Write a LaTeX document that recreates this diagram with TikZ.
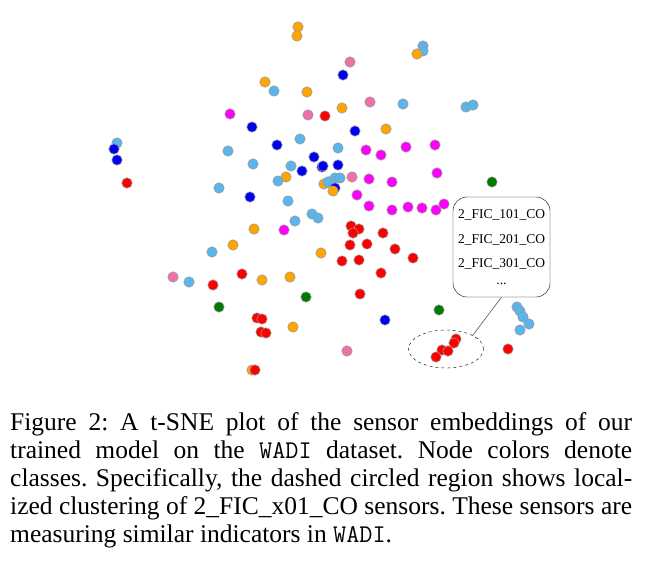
\documentclass[tikz,border=0pt]{standalone}
\usepackage{fontspec}
\setmainfont{Liberation Serif}
\setmonofont{Latin Modern Mono}
\usetikzlibrary{shapes.geometric}
\definecolor{lb}{HTML}{5AB4EE}
\definecolor{org}{HTML}{FFA500}
\definecolor{bl}{HTML}{0000F0}
\definecolor{rd}{HTML}{FF0000}
\definecolor{mg}{HTML}{FF00FF}
\definecolor{pk}{HTML}{F070A8}
\definecolor{gr}{HTML}{007A00}
\newcommand{\dt}[3]{\fill[#1,draw=gray!80,line width=0.6pt] (#2,#3) circle (5.2);}
\frenchspacing
\begin{document}
\begin{tikzpicture}[x=1pt,y=-1pt]
\useasboundingbox (0,0) rectangle (661,564);
\foreach \c/\x/\y in {org/298/27,org/297/36,org/265/82,lb/274/91,org/307/92,mg/230/114,pk/308/115,rd/325/116,bl/252/127,
lb/117/143,bl/114/149,bl/117/160,rd/127/183,lb/228/151,bl/277/145,lb/300/139,bl/314/157,bl/322/167,lb/253/164,lb/291/166,bl/302/171,org/286/177,lb/278/181,lb/219/188,bl/250/197,lb/288/201,org/324/184,lb/329/182,
lb/423/46,lb/423/51,org/417/54,pk/350/62,bl/343/75,pk/370/102,lb/403/104,lb/466/107,lb/473/105,org/342/108,bl/355/131,org/386/129,lb/338/148,mg/366/150,mg/381/155,mg/406/147,mg/435/145,bl/323/166,bl/338/165,pk/352/177,lb/335/178,lb/340/178,lb/328/182,bl/335/188,org/333/191,mg/369/179,mg/392/182,mg/437/173,gr/492/182,mg/357/195,mg/369/206,mg/392/210,mg/408/207,mg/422/208,mg/436/210,mg/444/204,
lb/295/221,lb/312/214,lb/318/218,org/254/229,mg/284/230,rd/351/226,rd/359/229,rd/353/233,rd/383/233,org/233/245,lb/212/252,org/321/253,rd/350/245,rd/367/244,rd/395/249,rd/342/261,rd/359/260,rd/381/273,rd/242/274,pk/173/277,lb/189/282,rd/213/285,org/262/280,org/290/277,gr/306/297,rd/360/294,gr/219/307,rd/257/318,rd/262/319,org/293/327,rd/261/332,rd/266/333,bl/385/320,pk/347/351,org/252/370,rd/255/370,
rd/413/258,gr/439/310,lb/517/307,lb/520/311,lb/523/317,lb/529/324,lb/520/330,rd/508/349,rd/456/339,rd/454/343,rd/442/350,rd/448/351,rd/436/357}
{\dt{\c}{\x}{\y}}
\node[draw,dashed,ellipse,minimum width=75,minimum height=38,inner sep=0] (ell) at (446,349) {};
\node[draw,rounded corners=14,minimum width=97,minimum height=100,align=center,font=\fontsize{13.5}{24.5}\selectfont] (box) at (501.5,247) {2\_FIC\_101\_CO\\2\_FIC\_201\_CO\\2\_FIC\_301\_CO\\[-8pt]...};
\draw[gray!70!black,line width=0.6pt] (ell.north east) -- (box.south);
\begin{scope}[every node/.style={anchor=base west,inner sep=0,font=\fontsize{25.5}{28}\selectfont}]
\node (c1) at (10,430) {\makebox[622pt][s]{Figure 2: A t-SNE plot of the sensor embeddings of our}};
\node (c2) at (10,458) {\makebox[622pt][s]{trained model on the \texttt{WADI} dataset. Node colors denote}};
\node (c3) at (10,486) {\makebox[622pt][s]{classes. Specifically, the dashed circled region shows local-}};
\node (c4) at (10,514) {\makebox[622pt][s]{ized clustering of 2\_FIC\_x01\_CO sensors. These sensors are}};
\node (c5) at (10,542) {measuring similar indicators in \texttt{WADI}.};
\end{scope}
\end{tikzpicture}
\end{document}
